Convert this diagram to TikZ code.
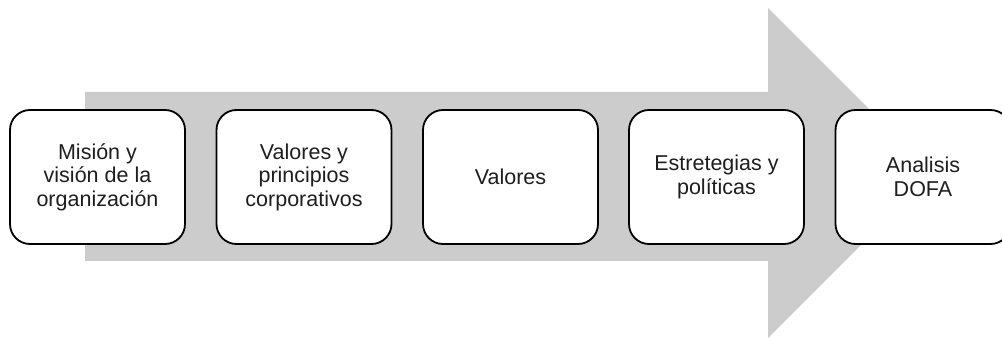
\documentclass[tikz,border=0pt]{standalone}
\usepackage{fontspec}
\setmainfont{Liberation Sans}
\definecolor{arrowgray}{RGB}{204,204,204}
\definecolor{txt}{RGB}{30,30,30}
\begin{document}
\begin{tikzpicture}[x=1pt,y=-1pt,
  stagebox/.style={draw=black, line width=1.8pt, rounded corners=20pt, fill=white,
    minimum width=175pt, minimum height=134pt, align=center, inner sep=2pt,
    font=\fontsize{21.5}{23.5}\selectfont, text=txt}]
\useasboundingbox (0,0) rectangle (1002,339);
\clip (0,0) rectangle (1002,339);
\fill[arrowgray] (85,92) -- (768,92) -- (768,8) -- (933,173) -- (768,338) -- (768,261) -- (85,261) -- cycle;
\node[stagebox] (s1) at (97.5,177) {Misión y\\visión de la\\organización};
\node[stagebox] (s2) at (304,177) {Valores y\\principios\\corporativos};
\node[stagebox] (s3) at (510.5,177) {Valores};
\node[stagebox] (s4) at (716.5,177) {Estretegias y\\políticas};
\node[stagebox] (s5) at (923,177) {Analisis\\DOFA};
\end{tikzpicture}
\end{document}
